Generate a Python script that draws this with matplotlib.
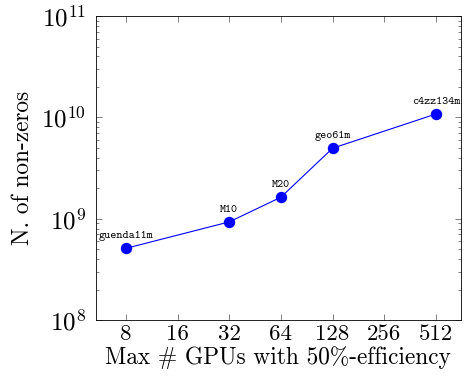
import matplotlib
matplotlib.use("Agg")
import matplotlib.pyplot as plt
from matplotlib.ticker import FixedLocator, NullFormatter, LogLocator

# data
gpus = [8, 32, 64, 128, 512]
nnz = [5.1e8, 9.3e8, 1.63e9, 4.96e9, 1.08e10]
names = ["guenda11m", "M10", "M20", "geo61m", "c4zz134m"]
xticks = [8, 16, 32, 64, 128, 256, 512]

plt.rcParams["font.family"] = "serif"
plt.rcParams["font.serif"] = ["cmr10"]
plt.rcParams["mathtext.fontset"] = "cm"
plt.rcParams["axes.formatter.use_mathtext"] = True

fig = plt.figure(figsize=(4.66, 3.83), dpi=100)
ax = fig.add_axes([0.206, 0.1645, 0.783, 0.7935])

ax.plot(gpus, nnz, color="blue", lw=0.8, marker="o", ms=7.2)
for x, y, s in zip(gpus, nnz, names):
    ax.annotate(s, (x, y), xytext=(0, 5), textcoords="offset points",
                ha="center", va="bottom", fontsize=8.3, family="cmtt10")

ax.set_xscale("log", base=2)
ax.set_yscale("log")
ax.set_xlim(5.35, 716)
ax.set_ylim(1e8, 1e11)
ax.xaxis.set_major_locator(FixedLocator(xticks))
ax.set_xticklabels([str(t) for t in xticks])
ax.xaxis.set_minor_locator(FixedLocator([]))
ax.yaxis.set_major_locator(LogLocator(base=10, numticks=10))
ax.yaxis.set_minor_locator(LogLocator(base=10, subs=range(2, 10), numticks=20))
ax.yaxis.set_minor_formatter(NullFormatter())

ax.tick_params(which="both", direction="in", top=True, right=True,
               width=0.5, color="0.3")
ax.tick_params(which="major", length=4.5)
ax.tick_params(which="minor", length=2.5)
ax.tick_params(axis="x", which="major", labelsize=16.5, pad=3)
ax.tick_params(axis="y", which="major", labelsize=18, pad=7)
for sp in ax.spines.values():
    sp.set_linewidth(0.6)

ax.set_xlabel("Max # GPUs with 50%-efficiency", fontsize=16.8, labelpad=2)
ax.set_ylabel("N. of non-zeros", fontsize=16.8, labelpad=5)

fig.savefig("out.png", dpi=100)
